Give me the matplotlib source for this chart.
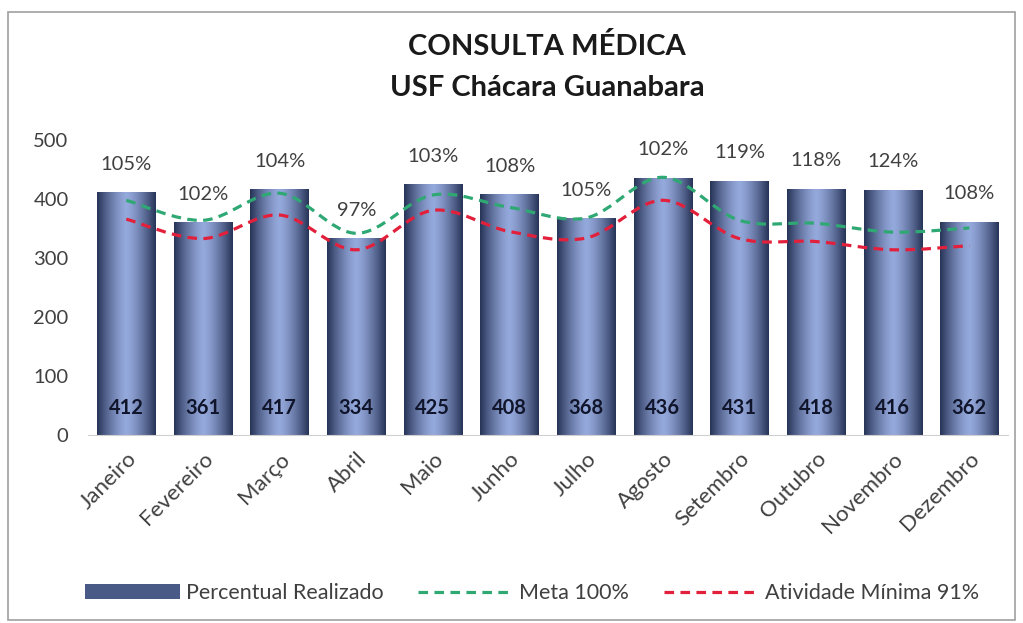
import numpy as np
import matplotlib
matplotlib.use("Agg")
import matplotlib.pyplot as plt
from matplotlib.path import Path
from matplotlib.patches import PathPatch, Rectangle
from matplotlib.lines import Line2D

# --- Data ---
meses = ["Janeiro", "Fevereiro", "Março", "Abril", "Maio", "Junho",
         "Julho", "Agosto", "Setembro", "Outubro", "Novembro", "Dezembro"]
realizado = [412, 361, 417, 334, 425, 408, 368, 436, 431, 418, 416, 362]
percentual = ["105%", "102%", "104%", "97%", "103%", "108%",
              "105%", "102%", "119%", "118%", "124%", "108%"]
meta_100 = [398, 364, 410, 342, 407, 386, 368, 437, 364, 359, 344, 351]
minima_91 = [366, 333, 373, 314, 381, 345, 334, 398, 333, 328, 314, 321]

plt.rcParams['font.family'] = ['Lato', 'DejaVu Sans']

fig = plt.figure(figsize=(10.23, 6.23), dpi=100)
ax = fig.add_axes([0.086, 0.302, 0.899, 0.473])

x = np.arange(len(meses))
bars = ax.bar(x, realizado, width=0.76, color='none', edgecolor='none', zorder=2)

# horizontal "cylinder" gradient inside each bar
g = np.linspace(-1, 1, 256)
shade = 1 - np.abs(g) ** 1.4
dark = np.array([0.15, 0.20, 0.34])
light = np.array([0.58, 0.66, 0.86])
grad = dark[None, :] + (light - dark)[None, :] * shade[:, None]
grad = grad[None, :, :]
for b in bars:
    x0, w, h = b.get_x(), b.get_width(), b.get_height()
    im = ax.imshow(grad, extent=[x0, x0 + w, 0, h], aspect='auto',
                   zorder=2, interpolation='bilinear')
    im.set_clip_path(b)


def smooth_path(xs, ys, t=1/6):
    # Catmull-Rom through the data points, drawn as cubic Bezier segments
    pts = np.column_stack([np.asarray(xs, float), np.asarray(ys, float)])
    verts = [pts[0]]
    codes = [Path.MOVETO]
    n = len(pts)
    for i in range(n - 1):
        p0 = pts[i - 1] if i > 0 else pts[i]
        p1 = pts[i]
        p2 = pts[i + 1]
        p3 = pts[i + 2] if i + 2 < n else pts[i + 1]
        verts += [p1 + (p2 - p0) * t, p2 - (p3 - p1) * t, p2]
        codes += [Path.CURVE4] * 3
    return Path(verts, codes)


verde = '#2fa874'
vermelho = '#e3203c'
traco = (0, (3, 2))
for serie, cor in [(meta_100, verde), (minima_91, vermelho)]:
    patch = PathPatch(smooth_path(x, serie), fill=False, edgecolor=cor,
                      linewidth=2.3, linestyle=traco, zorder=3)
    ax.add_patch(patch)

for xi, v, p in zip(x, realizado, percentual):
    ax.annotate(p, (xi, v), xytext=(0, 14), textcoords='offset points',
                ha='center', va='bottom', fontsize=14.5, color='#404040')
    ax.text(xi, 45, str(v), ha='center', va='center', fontsize=14.5,
            fontweight='bold', color='#10152b', zorder=4)

ax.set_xlim(-0.5, len(meses) - 0.5)
ax.set_ylim(0, 500)
ax.set_yticks([0, 100, 200, 300, 400, 500])
ax.tick_params(axis='y', length=0, labelsize=14.5, labelcolor='#404040', pad=14)
ax.tick_params(axis='x', length=0, labelsize=16, labelcolor='#404040', pad=10)
ax.set_xticks(x)
ax.set_xticklabels(meses, rotation=45, ha='right', rotation_mode='anchor')
for s in ['top', 'right', 'left']:
    ax.spines[s].set_visible(False)
ax.spines['bottom'].set_color('#d0d0d0')

fig.text(0.535, 0.925, "CONSULTA MÉDICA", ha='center', va='center',
         fontsize=21, fontweight='bold', color='#1a1a1a')
fig.text(0.535, 0.858, "USF Chácara Guanabara", ha='center', va='center',
         fontsize=21, fontweight='bold', color='#1a1a1a')

handles = [Rectangle((0, 0), 1, 1, facecolor='#4a5a86', edgecolor='none'),
           Line2D([], [], color=verde, lw=2.3, linestyle=traco),
           Line2D([], [], color=vermelho, lw=2.3, linestyle=traco)]
labels = ["Percentual Realizado", "Meta 100%", "Atividade Mínima 91%"]
fig.legend(handles, labels, loc='center', bbox_to_anchor=(0.52, 0.048),
           ncol=3, frameon=False, fontsize=15.5, handlelength=4.4,
           columnspacing=1.6, handletextpad=0.3, labelcolor='#404040')

fig.patches.append(Rectangle((0.008, 0.005), 0.984, 0.975, transform=fig.transFigure,
                             fill=False, edgecolor='#a0a0a0', lw=1.2))

fig.savefig("out.png", dpi=100)
